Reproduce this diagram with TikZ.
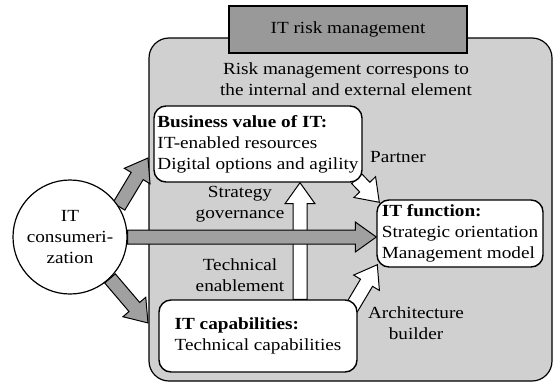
\documentclass[tikz,border=0pt]{standalone}
\usepackage{fontspec}
\setmainfont[FakeStretch=1.13]{Liberation Serif}
\usetikzlibrary{calc}
\definecolor{riskbg}{HTML}{D0D0D0}
\definecolor{titlebg}{HTML}{999999}
\definecolor{arrowgray}{HTML}{A0A0A0}
\pgfdeclarelayer{bg}
\pgfdeclarelayer{mid}
\pgfsetlayers{bg,mid,main}
\tikzset{
  every node/.style={font=\fontsize{17}{21}\selectfont},
  box/.style={draw, line width=1.4pt, fill=white, rounded corners=12pt, align=left, inner sep=0pt},
  fatline/.style={draw=black, line width=1pt, line join=miter},
  lbl/.style={align=center, inner sep=0pt},
}
\newcommand{\fatarrow}[3][]{%
  \draw[fatline,#1] let \p1=(#2), \p2=(#3),
      \n1={atan2(\y2-\y1,\x2-\x1)}, \n2={veclen(\x2-\x1,\y2-\y1)} in
    [shift={(\x1,\y1)}, rotate=\n1]
    (0pt,-7pt) -- ({\n2*1pt-21pt},-7pt) -- ({\n2*1pt-21pt},-15pt) -- ({\n2*1pt},0pt)
    -- ({\n2*1pt-21pt},15pt) -- ({\n2*1pt-21pt},7pt) -- (0pt,7pt) -- cycle;
}
\begin{document}
\begin{tikzpicture}[x=1pt,y=-1pt]
\useasboundingbox (0,0) rectangle (553,383);
\begin{pgfonlayer}{bg}
\node[draw, line width=1.2pt, fill=riskbg, rounded corners=20pt, minimum width=403pt,
      minimum height=343pt, inner sep=0pt] (risk) at (350.5,209.5) {};
\node[draw, line width=1.2pt, fill=titlebg, minimum width=238pt, minimum height=47pt,
      inner sep=0pt] (title) at (348,29.5) {IT risk management};
\end{pgfonlayer}
\node[lbl] (note) at (346,79) {Risk management correspons to\\the internal and external element};

\node[draw, line width=1.2pt, fill=white, circle, minimum size=114pt, inner sep=0pt,
      align=center] (circ) at (70,237) {IT\\consumeri-\\zation};
\node[box, minimum width=208pt, minimum height=76pt] (bv) at (258,144)
  {\textbf{Business value of IT:}\\IT-enabled resources\\Digital options and agility};
\node[box, minimum width=166pt, minimum height=67pt] (itf) at (460,233.5)
  {\textbf{IT function:}\\Strategic orientation\\Management model};
\node[box, minimum width=198pt, minimum height=72pt] (cap) at (258,336)
  {\textbf{IT capabilities:}\\Technical capabilities};

\coordinate (upTip) at (148,158);
\coordinate (lowTip) at (148,323);

\begin{pgfonlayer}{mid}
\fatarrow[fill=white]{[xshift=42pt]cap.north}{[xshift=42pt]bv.south}
\fatarrow[fill=arrowgray]{circ.east}{itf.west |- circ.east}
\fatarrow[fill=arrowgray]{circ.32}{upTip}
\fatarrow[fill=arrowgray]{circ.-46}{lowTip}
\fatarrow[fill=white]{[shift={(-6,-4)}]bv.south east}{[shift={(3,3)}]itf.north west}
\fatarrow[fill=white]{[shift={(-7,10)}]cap.north east}{[shift={(1,-3)}]itf.south west}
\end{pgfonlayer}

\node[lbl] (strat) at (240,204) {Strategy\\governance};
\node[lbl] (tech) at (240,275) {Technical\\enablement};
\node[lbl, anchor=west] (partner) at (370,157) {Partner};
\node[lbl] (arch) at (416,323) {Architecture\\builder};
\end{tikzpicture}
\end{document}
